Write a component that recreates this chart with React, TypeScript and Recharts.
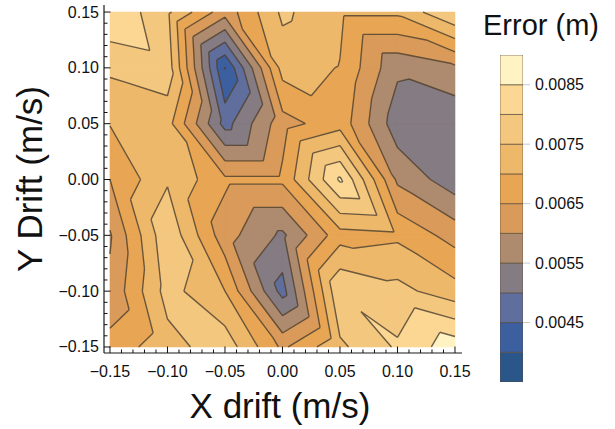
import React from 'react';
import { ComposedChart, Scatter, XAxis, YAxis } from 'recharts';

// grid of drift values (m/s)
const xDrift = [-0.15, -0.1, -0.05, 0, 0.05, 0.1, 0.15];
const yDrift = [0.15, 0.1, 0.05, 0, -0.05, -0.1, -0.15];

// error (m) at each x drift, one row per y drift
const errAtY015 = [0.00845, 0.0076, 0.0062, 0.0076, 0.0071, 0.0071, 0.008];
const errAtY010 = [0.0076, 0.0078, 0.00398, 0.0072, 0.00698, 0.0056, 0.0059];
const errAtY005 = [0.00702, 0.0072, 0.0048, 0.0063, 0.0068, 0.0052, 0.0051];
const errAtY000 = [0.0065, 0.00744, 0.0066, 0.0066, 0.00858, 0.0059, 0.0052];
const errAtYm005 = [0.00595, 0.0079, 0.0062, 0.0054, 0.0068, 0.0069, 0.0063];
const errAtYm010 = [0.0061, 0.0077, 0.007, 0.0048, 0.00796, 0.00766, 0.0072];
const errAtYm015 = [0.0067, 0.0073, 0.0078, 0.0064, 0.0074, 0.00807, 0.0088];

// contour band edges and colours (low -> high)
const levelEdges = [0.0035, 0.004, 0.0045, 0.005, 0.0055, 0.006, 0.0065, 0.007, 0.0075, 0.008, 0.0085, 0.009];
const bandColors = [
  '#2b5689', '#3c5f9f', '#5f6e9d', '#857b82', '#ae8b6e', '#d99a5a',
  '#e8a655', '#eeb86b', '#f4c77f', '#fbd793', '#fff2c3',
];
const legendTicks = [0.0045, 0.0055, 0.0065, 0.0075, 0.0085];

const errorRows = [errAtY015, errAtY010, errAtY005, errAtY000, errAtYm005, errAtYm010, errAtYm015];

const xDomain = [-0.1552, 0.1561];
const yDomain = [-0.1554, 0.1563];
const frameTicks = Array.from({ length: 31 }, (_, k) => (k - 15) / 100);

type Pt = { x: number; y: number; v: number };

// split every grid cell along its top-left / bottom-right diagonal
function buildTriangles(): Pt[][] {
  const tris: Pt[][] = [];
  for (let j = 0; j < yDrift.length - 1; j++) {
    for (let i = 0; i < xDrift.length - 1; i++) {
      const tl = { x: xDrift[i], y: yDrift[j], v: errorRows[j][i] };
      const tr = { x: xDrift[i + 1], y: yDrift[j], v: errorRows[j][i + 1] };
      const bl = { x: xDrift[i], y: yDrift[j + 1], v: errorRows[j + 1][i] };
      const br = { x: xDrift[i + 1], y: yDrift[j + 1], v: errorRows[j + 1][i + 1] };
      tris.push([tl, tr, br], [tl, br, bl]);
    }
  }
  return tris;
}

function clip(poly: Pt[], level: number, above: boolean): Pt[] {
  const out: Pt[] = [];
  for (let k = 0; k < poly.length; k++) {
    const a = poly[k];
    const b = poly[(k + 1) % poly.length];
    const aIn = above ? a.v >= level : a.v <= level;
    const bIn = above ? b.v >= level : b.v <= level;
    if (aIn) out.push(a);
    if (aIn !== bIn) {
      const t = (level - a.v) / (b.v - a.v);
      out.push({ x: a.x + t * (b.x - a.x), y: a.y + t * (b.y - a.y), v: level });
    }
  }
  return out;
}

const triangles = buildTriangles();

const bands = bandColors.map((color, k) => {
  const lo = k === 0 ? -Infinity : levelEdges[k];
  const hi = k === bandColors.length - 1 ? Infinity : levelEdges[k + 1];
  const points: { x: number; y: number }[] = [];
  const sizes: number[] = [];
  triangles.forEach((tri) => {
    let poly = clip(tri, lo, true);
    if (poly.length >= 3) poly = clip(poly, hi, false);
    if (poly.length >= 3) {
      poly.forEach((p) => points.push({ x: p.x, y: p.y }));
      sizes.push(poly.length);
    }
  });
  return { color, points, sizes };
});

const contourPoints: { x: number; y: number }[] = [];
levelEdges.slice(1, -1).forEach((level) => {
  triangles.forEach((tri) => {
    const seg: { x: number; y: number }[] = [];
    for (let k = 0; k < 3; k++) {
      const a = tri[k];
      const b = tri[(k + 1) % 3];
      if (a.v < level !== b.v < level) {
        const t = (level - a.v) / (b.v - a.v);
        seg.push({ x: a.x + t * (b.x - a.x), y: a.y + t * (b.y - a.y) });
      }
    }
    if (seg.length === 2) contourPoints.push(seg[0], seg[1]);
  });
});

// colour bar cells: one rectangle per band
const legendCells = bandColors.map((color, k) => ({
  color,
  points: [
    { x: 0, y: levelEdges[k] },
    { x: 1, y: levelEdges[k] },
    { x: 1, y: levelEdges[k + 1] },
    { x: 0, y: levelEdges[k + 1] },
  ],
}));

const polygonLine = (sizes: number[], color: string, edge?: string) => (props: any) => {
  const pts = props.points || [];
  let d = '';
  let at = 0;
  sizes.forEach((n) => {
    const poly = pts.slice(at, at + n);
    at += n;
    d += 'M' + poly.map((p: any) => `${p.x},${p.y}`).join('L') + 'Z';
  });
  if (edge) {
    return <path d={d} fill={color} stroke={edge} strokeOpacity={0.75} strokeWidth={0.9} />;
  }
  return <path d={d} fill={color} stroke={color} strokeWidth={0.6} strokeLinejoin="round" />;
};

const segmentLine = (props: any) => {
  const pts = props.points || [];
  let d = '';
  for (let k = 0; k + 1 < pts.length; k += 2) {
    d += `M${pts[k].x},${pts[k].y}L${pts[k + 1].x},${pts[k + 1].y}`;
  }
  return <path d={d} fill="none" stroke="#4a3c2c" strokeOpacity={0.8} strokeWidth={1.4} strokeLinejoin="round" />;
};

const noDot = () => <g />;

const formatTick = (v: number) => (v < 0 ? '\u2212' : '') + Math.abs(v).toFixed(2);

const FrameTick = (props: any) => {
  const { x, y, payload, side } = props;
  const v = payload.value;
  const major = Math.round(v * 100) % 5 === 0;
  const len = major ? 6.5 : 3.5;
  let line = null;
  let label = null;
  if (side === 'bottom') {
    line = <line x1={x} y1={y} x2={x} y2={y - len} />;
    if (major) label = <text x={x} y={y + 24} textAnchor="middle">{formatTick(v)}</text>;
  } else if (side === 'top') {
    line = <line x1={x} y1={y} x2={x} y2={y + len} />;
  } else if (side === 'left') {
    line = <line x1={x} y1={y} x2={x + len} y2={y} />;
    if (major) label = <text x={x - 5} y={y + 5.5} textAnchor="end">{formatTick(v)}</text>;
  } else {
    line = <line x1={x} y1={y} x2={x - len} y2={y} />;
  }
  return (
    <g stroke="#111" strokeWidth={1}>
      {line}
      {label && <g stroke="none" fill="#111" fontSize={16}>{label}</g>}
    </g>
  );
};

const frameLine = { stroke: '#1a1a1a', strokeWidth: 1.2 };

export default function App() {
  return (
    <div style={{ position: 'relative', width: 615, height: 429, background: '#fff', fontFamily: 'Liberation Sans, Arial, sans-serif' }}>
      <style>{'body{margin:0}'}</style>
      <div style={{ position: 'absolute', left: 0, top: 0 }}>
        <ComposedChart width={615} height={429} margin={{ top: 5, right: 153, bottom: 36, left: 44 }}>
          <XAxis xAxisId="b" dataKey="x" type="number" domain={xDomain} allowDataOverflow ticks={frameTicks} interval={0}
            height={40} tickLine={false} tickSize={0} tickMargin={0} axisLine={frameLine} tick={<FrameTick side="bottom" />} />
          <XAxis xAxisId="t" dataKey="x" type="number" orientation="top" domain={xDomain} allowDataOverflow ticks={frameTicks} interval={0}
            height={0} tickLine={false} tickSize={0} tickMargin={0} axisLine={frameLine} tick={<FrameTick side="top" />} />
          <YAxis yAxisId="l" dataKey="y" type="number" domain={yDomain} allowDataOverflow ticks={frameTicks} interval={0}
            width={60} tickLine={false} tickSize={0} tickMargin={0} axisLine={frameLine} tick={<FrameTick side="left" />} />
          <YAxis yAxisId="r" dataKey="y" type="number" orientation="right" domain={yDomain} allowDataOverflow ticks={frameTicks} interval={0}
            width={0} tickLine={false} tickSize={0} tickMargin={0} axisLine={frameLine} tick={<FrameTick side="right" />} />
          {bands.map((b, k) => (
            <Scatter key={k} data={b.points} xAxisId="b" yAxisId="l" fill={b.color} shape={noDot}
              line={polygonLine(b.sizes, b.color)} isAnimationActive={false} legendType="none" />
          ))}
          <Scatter data={contourPoints} xAxisId="b" yAxisId="l" fill="#4a3c2c" shape={noDot}
            line={segmentLine} isAnimationActive={false} legendType="none" />
        </ComposedChart>
      </div>
      <div style={{ position: 'absolute', left: 485, top: 0 }}>
        <ComposedChart width={130} height={429} margin={{ top: 55, right: 10, bottom: 47, left: 15 }}>
          <XAxis type="number" dataKey="x" domain={[0, 1]} allowDataOverflow hide />
          <YAxis type="number" dataKey="y" orientation="right" domain={[0.0035, 0.009]} allowDataOverflow ticks={legendTicks} interval={0}
            width={82} tickSize={7} tickMargin={5} axisLine={false} tickLine={{ stroke: '#c9c9c9' }}
            tick={{ fontSize: 16, fill: '#111' }} tickFormatter={(v: number) => v.toFixed(4)} />
          {legendCells.map((c, k) => (
            <Scatter key={k} data={c.points} fill={c.color} shape={noDot}
              line={polygonLine([4], c.color, '#5a4a3c')} isAnimationActive={false} legendType="none" />
          ))}
        </ComposedChart>
      </div>
      <svg width={615} height={429} style={{ position: 'absolute', left: 0, top: 0, pointerEvents: 'none' }}>
        <g fill="#111">
          <text x={280} y={418} textAnchor="middle" fontSize={35}>X drift (m/s)</text>
          <text transform="translate(42,179) rotate(-90)" textAnchor="middle" fontSize={35}>Y Drift (m/s)</text>
          <text x={541} y={35} textAnchor="middle" fontSize={29}>Error (m)</text>
        </g>
      </svg>
    </div>
  );
}
